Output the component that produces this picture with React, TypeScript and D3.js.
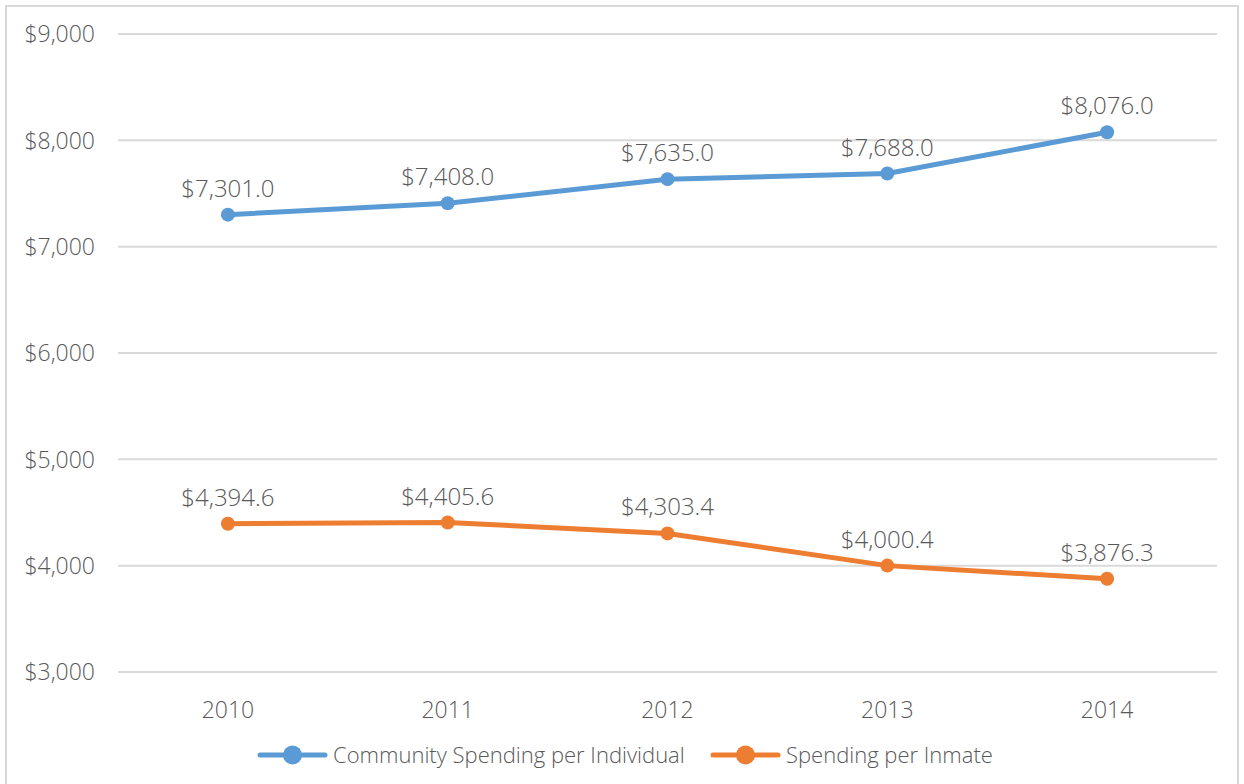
import { useEffect, useRef } from "react";
import * as d3 from "d3";

const YEARS = ["2010", "2011", "2012", "2013", "2014"];
const COMMUNITY = [7301.0, 7408.0, 7635.0, 7688.0, 8076.0];
const INMATE = [4394.6, 4405.6, 4303.4, 4000.4, 3876.3];
const Y_TICKS = [3000, 4000, 5000, 6000, 7000, 8000, 9000];

const SERIES = [
  { name: "Community Spending per Individual", values: COMMUNITY, color: "#5b9bd5" },
  { name: "Spending per Inmate", values: INMATE, color: "#ed7d31" },
];

const W = 1244;
const H = 784;
const FONT = "'Open Sans', Lato, sans-serif";
const TEXT = "#595959";

export default function App() {
  const ref = useRef<SVGSVGElement | null>(null);

  useEffect(() => {
    if (!ref.current) return;
    const svg = d3.select(ref.current);
    svg.selectAll("*").remove();

    svg.append("rect")
      .attr("x", 6).attr("y", 6)
      .attr("width", W - 12).attr("height", H)
      .attr("fill", "#fff").attr("stroke", "#d9d9d9").attr("stroke-width", 2);

    const left = 118, right = 1217, top = 34, bottom = 672;
    const x = d3.scaleBand().domain(YEARS).range([left, right]);
    const y = d3.scaleLinear().domain([3000, 9000]).range([bottom, top]);
    const cx = (d: string) => (x(d) || 0) + x.bandwidth() / 2;

    svg.append("g").selectAll("line")
      .data(Y_TICKS)
      .join("line")
      .attr("x1", left).attr("x2", right)
      .attr("y1", d => y(d)).attr("y2", d => y(d))
      .attr("stroke", "#d9d9d9").attr("stroke-width", 2);

    svg.append("g").selectAll("text")
      .data(Y_TICKS)
      .join("text")
      .attr("x", 95)
      .attr("y", d => y(d))
      .attr("dy", "0.36em")
      .attr("text-anchor", "end")
      .style("font-family", FONT).style("font-weight", 300)
      .style("font-size", "23px").style("fill", TEXT)
      .text(d => "$" + d3.format(",")(d));

    svg.append("g").selectAll("text")
      .data(YEARS)
      .join("text")
      .attr("x", d => cx(d))
      .attr("y", 718)
      .attr("text-anchor", "middle")
      .style("font-family", FONT).style("font-weight", 300)
      .style("font-size", "23px").style("fill", TEXT)
      .text(d => d);

    const line = d3.line<number>()
      .x((_, i) => cx(YEARS[i]))
      .y(d => y(d));

    SERIES.forEach(s => {
      const g = svg.append("g");
      g.append("path")
        .attr("d", line(s.values) || "")
        .attr("fill", "none")
        .attr("stroke", s.color)
        .attr("stroke-width", 5)
        .attr("stroke-linecap", "round")
        .attr("stroke-linejoin", "round");
      g.selectAll("circle")
        .data(s.values)
        .join("circle")
        .attr("cx", (_, i) => cx(YEARS[i]))
        .attr("cy", d => y(d))
        .attr("r", 7)
        .attr("fill", s.color);
      g.selectAll("text")
        .data(s.values)
        .join("text")
        .attr("x", (_, i) => cx(YEARS[i]))
        .attr("y", d => y(d) - 18)
        .attr("text-anchor", "middle")
        .style("font-family", FONT).style("font-weight", 300)
        .style("font-size", "24px").style("fill", TEXT)
        .text(d => "$" + d3.format(",.1f")(d));
    });

    const legendPos = [
      { x0: 260, x1: 325, text: 333 },
      { x0: 713, x1: 778, text: 786 },
    ];
    const ly = 755;
    SERIES.forEach((s, i) => {
      const p = legendPos[i];
      const g = svg.append("g");
      g.append("line")
        .attr("x1", p.x0).attr("x2", p.x1)
        .attr("y1", ly).attr("y2", ly)
        .attr("stroke", s.color).attr("stroke-width", 5)
        .attr("stroke-linecap", "round");
      g.append("circle")
        .attr("cx", (p.x0 + p.x1) / 2).attr("cy", ly)
        .attr("r", 9.5).attr("fill", s.color);
      g.append("text")
        .attr("x", p.text).attr("y", ly)
        .attr("dy", "0.36em")
        .style("font-family", FONT).style("font-weight", 300)
        .style("font-size", "22px").style("fill", TEXT)
        .text(s.name);
    });
  }, []);

  return (
    <svg
      ref={ref}
      width={W}
      height={H}
      style={{ position: "absolute", left: 0, top: 0, display: "block" }}
    />
  );
}
